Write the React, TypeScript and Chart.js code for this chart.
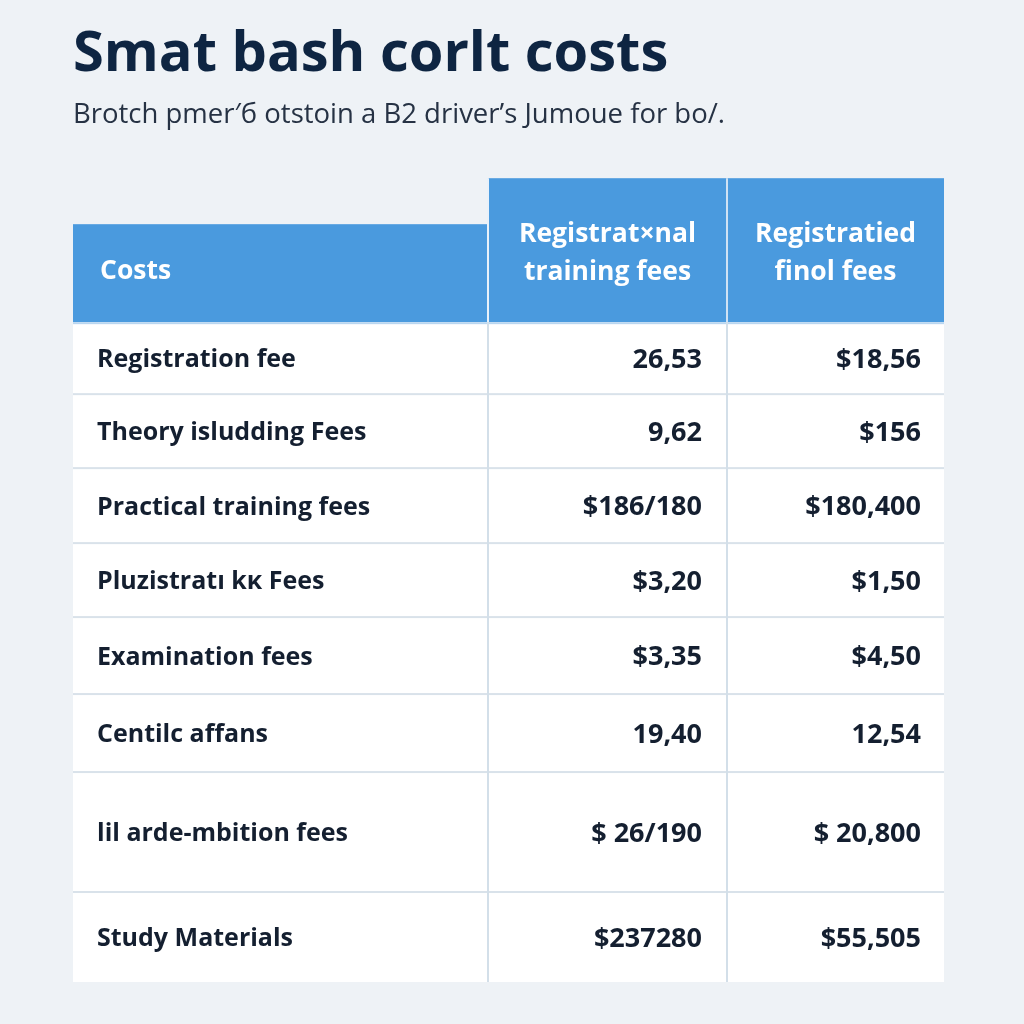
import React, { useEffect, useRef } from 'react';
import { Chart, registerables } from 'chart.js';

Chart.register(...registerables);

// ---- content ----
const TITLE = 'Smat bash corlt costs';
const SUBTITLE = 'Brotch pmer\u2032\u0431 otstoin a B2 driver\u2019s Jumoue for bo/.';
const HEADER_FIRST = 'Costs';
const HEADER_TRAINING = ['Registrat\u00d7nal', 'training fees'];
const HEADER_FINAL = ['Registratied', 'finol fees'];
const CATEGORIES = [
  'Registration fee',
  'Theory isludding Fees',
  'Practical training fees',
  'Pluzistrat\u0131 k\u0138 Fees',
  'Examination fees',
  'Centilc affans',
  'lil arde-mbition fees',
  'Study Materials',
];
const TRAINING_FEES = ['26,53', '9,62', '$186/180', '$3,20', '$3,35', '19,40', '$ 26/190', '$237280'];
const FINAL_FEES = ['$18,56', '$156', '$180,400', '$1,50', '$4,50', '12,54', '$ 20,800', '$55,505'];

// ---- layout (table units) ----
const COL_WIDTHS = [415, 239, 217];
const HEADER_HEIGHT = 144;
const FIRST_HEADER_OFFSET = 46;
const ROW_HEIGHTS = [72, 74, 75, 74, 77, 78, 120, 90];

const BLUE = '#4a9ade';
const INK = '#141f30';
const FONT = '"Open Sans", Lato, sans-serif';

const TABLE_W = COL_WIDTHS.reduce((a, b) => a + b, 0);
const TABLE_H = HEADER_HEIGHT + ROW_HEIGHTS.reduce((a, b) => a + b, 0);

const tablePlugin = {
  id: 'tablePlugin',
  beforeDraw(chart: any) {
    const ctx = chart.ctx;
    ctx.save();
    ctx.fillStyle = '#eef2f6';
    ctx.fillRect(0, 0, chart.width, chart.height);
    ctx.restore();
  },
  afterDraw(chart: any) {
    const { ctx, scales } = chart;
    const xs = scales.x;
    const ys = scales.y;
    const colEdges = [0];
    COL_WIDTHS.forEach((w) => colEdges.push(colEdges[colEdges.length - 1] + w));
    const rowEdges = [HEADER_HEIGHT];
    ROW_HEIGHTS.forEach((h) => rowEdges.push(rowEdges[rowEdges.length - 1] + h));
    const X = colEdges.map((v) => xs.getPixelForValue(v));
    const Y = rowEdges.map((v) => ys.getPixelForValue(v));
    const yTop = ys.getPixelForValue(0);
    const yFirstTop = ys.getPixelForValue(FIRST_HEADER_OFFSET);
    const yHeadBottom = Y[0];

    ctx.save();
    // header
    ctx.fillStyle = BLUE;
    ctx.fillRect(X[0], yFirstTop, X[1] - X[0], yHeadBottom - yFirstTop);
    ctx.fillRect(X[1], yTop, X[3] - X[1], yHeadBottom - yTop);
    ctx.fillStyle = '#e8f1fa';
    ctx.fillRect(X[1] - 1, yTop, 2, yHeadBottom - yTop);
    ctx.fillStyle = '#cfe2f4';
    ctx.fillRect(X[2] - 1, yTop, 2, yHeadBottom - yTop);

    // body
    ctx.fillStyle = '#ffffff';
    ctx.fillRect(X[0], yHeadBottom, X[3] - X[0], Y[Y.length - 1] - yHeadBottom);
    ctx.fillStyle = '#b9d6f0';
    ctx.fillRect(X[0], yHeadBottom, X[3] - X[0], 2);
    ctx.fillStyle = '#d9e2ea';
    for (let i = 1; i < Y.length - 1; i++) {
      ctx.fillRect(X[0], Y[i] - 1, X[3] - X[0], 2);
    }
    ctx.fillStyle = '#d3dfe9';
    ctx.fillRect(X[1] - 1, yHeadBottom, 2, Y[Y.length - 1] - yHeadBottom);
    ctx.fillRect(X[2] - 1, yHeadBottom, 2, Y[Y.length - 1] - yHeadBottom);

    // header text
    ctx.fillStyle = '#ffffff';
    ctx.font = `bold 26.5px ${FONT}`;
    ctx.textBaseline = 'middle';
    ctx.textAlign = 'left';
    ctx.fillText(HEADER_FIRST, X[0] + 27, (yFirstTop + yHeadBottom) / 2 - 2);
    ctx.textAlign = 'center';
    const hc = (yTop + yHeadBottom) / 2;
    [HEADER_TRAINING, HEADER_FINAL].forEach((lines, k) => {
      const cx = (X[k + 1] + X[k + 2]) / 2;
      ctx.fillText(lines[0], cx, hc - 16);
      ctx.fillText(lines[1], cx, hc + 22);
    });

    // body text
    ctx.fillStyle = INK;
    for (let i = 0; i < CATEGORIES.length; i++) {
      const cy = (Y[i] + Y[i + 1]) / 2 + 2;
      ctx.font = `bold 25px ${FONT}`;
      ctx.textAlign = 'left';
      ctx.fillText(CATEGORIES[i], X[0] + 24, cy);
      ctx.font = `bold 27px ${FONT}`;
      ctx.textAlign = 'right';
      ctx.fillText(TRAINING_FEES[i], X[2] - 25, cy);
      ctx.fillText(FINAL_FEES[i], X[3] - 23, cy);
    }
    ctx.restore();
  },
};

export default function App() {
  const ref = useRef<HTMLCanvasElement>(null);
  useEffect(() => {
    if (!ref.current) return;
    const chart = new Chart(ref.current, {
      type: 'scatter',
      data: { labels: CATEGORIES, datasets: [] },
      options: {
        responsive: false,
        animation: false,
        layout: { padding: { left: 73, right: 80, top: 0, bottom: 42 } },
        scales: {
          x: { type: 'linear', min: 0, max: TABLE_W, display: false },
          y: { type: 'linear', min: 0, max: TABLE_H, reverse: true, display: false },
        },
        plugins: {
          legend: { display: false },
          tooltip: { enabled: false },
          title: {
            display: true,
            text: TITLE,
            align: 'start',
            color: '#0e2542',
            font: { family: FONT, size: 56, weight: 'bold', lineHeight: 1.2 },
            padding: { top: 21, bottom: 0 },
          },
          subtitle: {
            display: true,
            text: SUBTITLE,
            align: 'start',
            color: '#263244',
            font: { family: FONT, size: 27.5, weight: 'normal', lineHeight: 1.2 },
            padding: { top: 10, bottom: 47 },
          },
        },
      },
      plugins: [tablePlugin],
    });
    return () => chart.destroy();
  }, []);
  return (
    <div style={{ position: 'fixed', left: 0, top: 0, width: 1024, height: 1024, background: '#eef2f6' }}>
      <canvas ref={ref} width={1024} height={1024} style={{ display: 'block' }} />
    </div>
  );
}
